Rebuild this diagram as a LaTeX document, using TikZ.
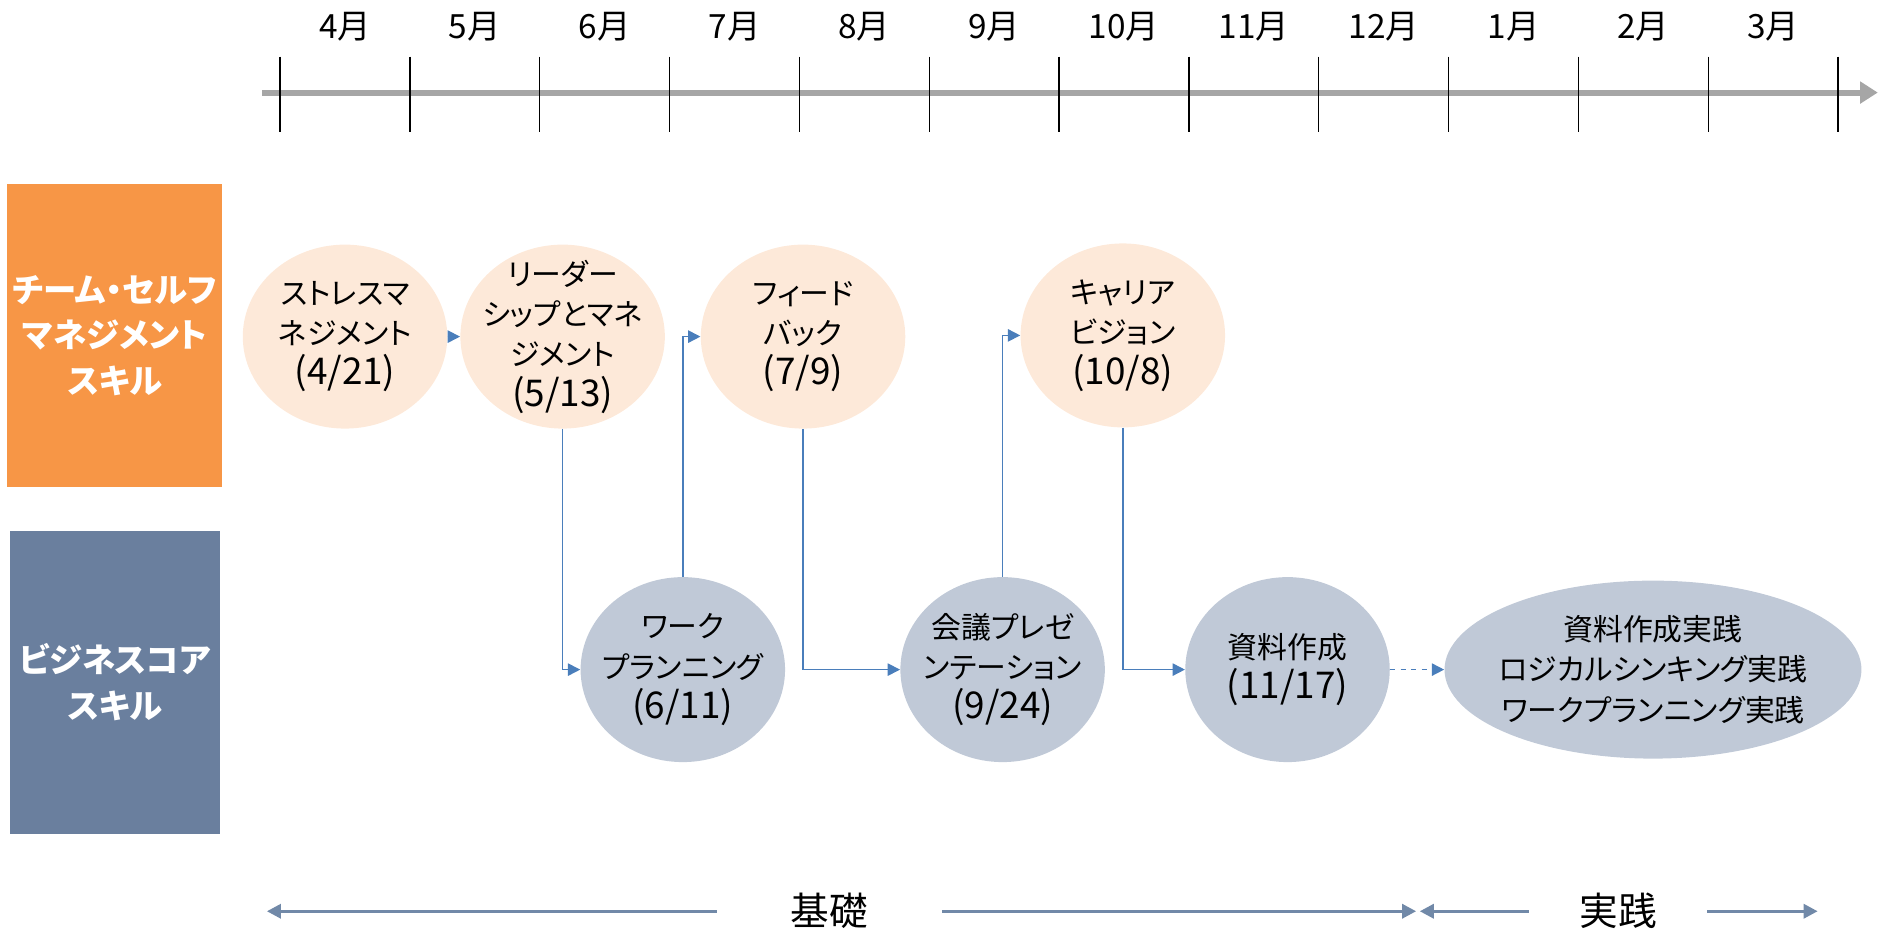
\documentclass[tikz,border=0pt]{standalone}
\usepackage{fontspec}
\setmainfont[CharacterWidth=AlternateProportional]{Noto Sans CJK JP}
\usetikzlibrary{shapes.geometric,arrows.meta}

\definecolor{axisgray}{HTML}{A6A6A6}
\definecolor{teamorange}{HTML}{F79646}
\definecolor{coreslate}{HTML}{6A7F9E}
\definecolor{peach}{HTML}{FDE9D9}
\definecolor{steel}{HTML}{C0C9D7}
\definecolor{linkblue}{HTML}{4A7EBB}
\definecolor{phaseblue}{HTML}{7189A8}

\newcommand{\stepdate}[1]{{\fontsize{21}{23}\selectfont(#1)}}

\tikzset{
  skillbox/.style={rectangle, minimum width=4.21cm, minimum height=6.06cm, text=white, align=center, font=\bfseries\fontsize{19}{26}\selectfont},
  topstep/.style={ellipse, fill=peach, minimum width=4.09cm, minimum height=3.68cm, inner sep=-10pt, align=center, font=\fontsize{17}{23}\selectfont},
  basestep/.style={topstep, fill=steel, minimum height=3.70cm},
  monthlbl/.style={font=\fontsize{19}{19}\selectfont},
  flowarrow/.style={draw=linkblue, line width=0.9pt, -{Triangle[length=7pt,width=7pt]}},
  phaselbl/.style={font=\fontsize{22}{22}\selectfont},
  phasearrow/.style={draw=phaseblue, line width=1.8pt, -{Triangle[length=8pt,width=8pt]}}
}

\begin{document}
\begin{tikzpicture}[x=0.024044cm, y=-0.024044cm]
  \useasboundingbox (0,0) rectangle (1568,776);
  \draw[axisgray, line width=3.4pt, -{Triangle[length=10pt,width=12pt]}] (218,77) -- (1562,77);
  \draw[line width=0.8pt] (233,47) -- (233,110);
  \draw[line width=0.8pt] (341,47) -- (341,110);
  \draw[line width=0.8pt] (449,47) -- (449,110);
  \draw[line width=0.8pt] (557,47) -- (557,110);
  \draw[line width=0.8pt] (665,47) -- (665,110);
  \draw[line width=0.8pt] (773,47) -- (773,110);
  \draw[line width=0.8pt] (881,47) -- (881,110);
  \draw[line width=0.8pt] (989,47) -- (989,110);
  \draw[line width=0.8pt] (1097,47) -- (1097,110);
  \draw[line width=0.8pt] (1205,47) -- (1205,110);
  \draw[line width=0.8pt] (1313,47) -- (1313,110);
  \draw[line width=0.8pt] (1421,47) -- (1421,110);
  \draw[line width=0.8pt] (1529,47) -- (1529,110);
  \node[monthlbl] (m4) at (287,22) {4月};
  \node[monthlbl] (m5) at (395,22) {5月};
  \node[monthlbl] (m6) at (503,22) {6月};
  \node[monthlbl] (m7) at (611,22) {7月};
  \node[monthlbl] (m8) at (719,22) {8月};
  \node[monthlbl] (m9) at (827,22) {9月};
  \node[monthlbl] (m10) at (935,22) {10月};
  \node[monthlbl] (m11) at (1043,22) {11月};
  \node[monthlbl] (m12) at (1151,22) {12月};
  \node[monthlbl] (m1) at (1259,22) {1月};
  \node[monthlbl] (m2) at (1367,22) {2月};
  \node[monthlbl] (m3) at (1475,22) {3月};

  \node[skillbox, fill=teamorange] (team) at (95.5,279) {チーム・セルフ\\マネジメント\\スキル};
  \node[skillbox, fill=coreslate] (core) at (95.5,567.5) {ビジネスコア\\スキル};

  \node[topstep] (stress) at (287,280) {ストレスマ\\ネジメント\\\stepdate{4/21}};
  \node[topstep] (leader) at (468,280) {リーダー\\シップとマネ\\ジメント\\\stepdate{5/13}};
  \node[topstep] (feedback) at (668,280) {フィード\\バック\\\stepdate{7/9}};
  \node[topstep] (career) at (934,279) {キャリア\\ビジョン\\\stepdate{10/8}};
  \node[basestep] (workplan) at (568,557) {ワーク\\プランニング\\\stepdate{6/11}};
  \node[basestep] (kaigi) at (834,557) {会議プレゼ\\ンテーション\\\stepdate{9/24}};
  \node[basestep] (shiryo) at (1071,557) {資料作成\\\stepdate{11/17}};
  \node[basestep, minimum width=8.34cm, minimum height=3.56cm] (practice) at (1375,557) {資料作成実践\\ロジカルシンキング実践\\ワークプランニング実践};

  \draw[flowarrow] (stress) -- (leader);
  \draw[flowarrow] (leader.south) |- (workplan.west);
  \draw[flowarrow] (workplan.north) |- (feedback.west);
  \draw[flowarrow] (feedback.south) |- (kaigi.west);
  \draw[flowarrow] (kaigi.north) |- (career.west);
  \draw[flowarrow] (career.south) |- (shiryo.west);
  \draw[flowarrow, dashed] (shiryo) -- (practice);

  \node[phaselbl, minimum width=4.5cm] (kiso) at (690,758) {基礎};
  \node[phaselbl, minimum width=3.56cm] (jissen) at (1346,758) {実践};
  \coordinate (kisostart) at (222,758);
  \coordinate (kisoend) at (1178,758);
  \coordinate (jissenstart) at (1181,758);
  \coordinate (jissenend) at (1512,758);
  \draw[phasearrow] (kiso) -- (kisostart);
  \draw[phasearrow] (kiso) -- (kisoend);
  \draw[phasearrow] (jissen) -- (jissenstart);
  \draw[phasearrow] (jissen) -- (jissenend);
\end{tikzpicture}
\end{document}
